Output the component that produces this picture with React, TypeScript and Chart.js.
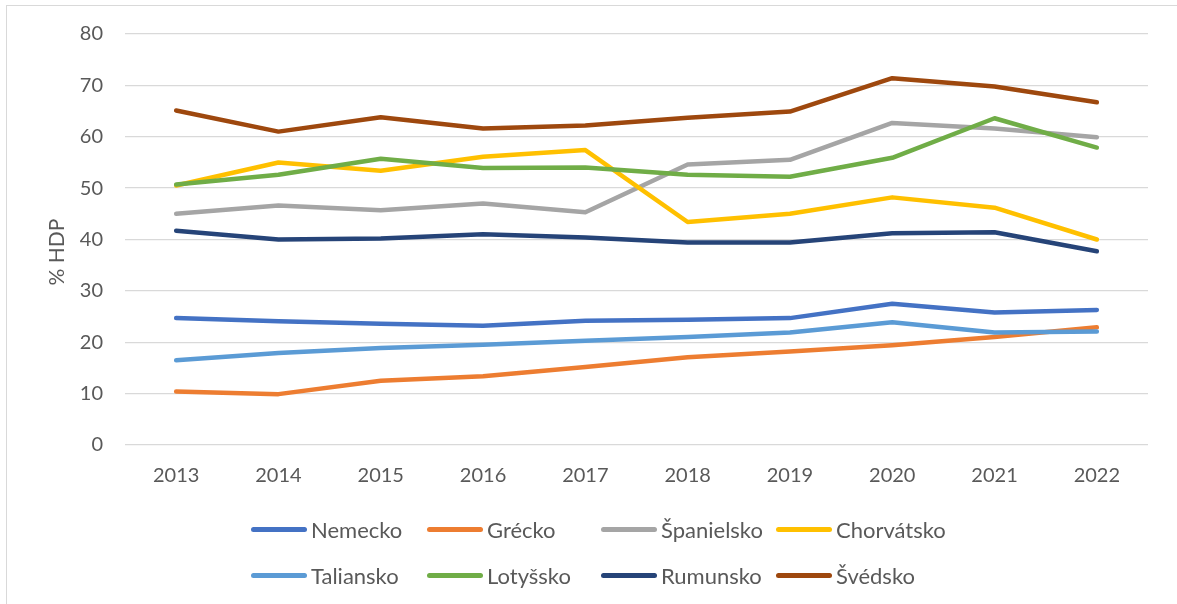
import React, { useEffect, useRef } from "react";
import { Chart, registerables } from "chart.js";

Chart.register(...registerables);

const years = ["2013", "2014", "2015", "2016", "2017", "2018", "2019", "2020", "2021", "2022"];

const nemecko = [24.7, 24.1, 23.6, 23.2, 24.2, 24.4, 24.7, 27.5, 25.8, 26.3];
const grecko = [10.4, 9.9, 12.5, 13.4, 15.2, 17.1, 18.2, 19.4, 21.0, 22.9];
const spanielsko = [45.0, 46.6, 45.7, 47.0, 45.3, 54.6, 55.5, 62.7, 61.6, 59.9];
const chorvatsko = [50.5, 55.0, 53.4, 56.1, 57.4, 43.4, 45.0, 48.2, 46.2, 40.0];
const taliansko = [16.5, 17.9, 18.9, 19.5, 20.3, 21.0, 21.9, 23.9, 21.9, 22.1];
const lotyssko = [50.7, 52.6, 55.7, 53.9, 54.0, 52.6, 52.2, 55.9, 63.6, 57.9];
const rumunsko = [41.7, 40.0, 40.2, 41.0, 40.4, 39.4, 39.4, 41.2, 41.4, 37.7];
const svedsko = [65.1, 61.0, 63.8, 61.6, 62.2, 63.7, 64.9, 71.4, 69.8, 66.7];

const yTicks = [0, 10, 20, 30, 40, 50, 60, 70, 80];
const yTitle = "% HDP";

const seriesNames = ["Nemecko", "Grécko", "Španielsko", "Chorvátsko", "Taliansko", "Lotyšsko", "Rumunsko", "Švédsko"];
const seriesValues = [nemecko, grecko, spanielsko, chorvatsko, taliansko, lotyssko, rumunsko, svedsko];
const seriesColors = ["#4472C4", "#ED7D31", "#A5A5A5", "#FFC000", "#5B9BD5", "#70AD47", "#264478", "#9E480E"];

const FONT = "Lato, 'Open Sans', sans-serif";
const TEXT = "#595959";

const titlePlugin = {
  id: "yTitle",
  afterDraw(chart: any) {
    const ctx = chart.ctx;
    ctx.save();
    ctx.translate(57, 252);
    ctx.rotate(-Math.PI / 2);
    ctx.font = `21px ${FONT}`;
    ctx.fillStyle = TEXT;
    ctx.textAlign = "center";
    ctx.textBaseline = "middle";
    ctx.fillText(yTitle, 0, 0);
    ctx.restore();
  },
};

export default function App() {
  const ref = useRef<HTMLCanvasElement>(null);
  useEffect(() => {
    if (!ref.current) return;
    const chart = new Chart(ref.current, {
      type: "line",
      data: {
        labels: years,
        datasets: seriesNames.map((name, i) => ({
          label: name,
          data: seriesValues[i],
          borderColor: seriesColors[i],
          backgroundColor: seriesColors[i],
          borderWidth: 4.5,
          borderCapStyle: "round" as const,
          borderJoinStyle: "round" as const,
          pointRadius: 0,
          tension: 0,
          order: seriesNames.length - i,
        })),
      },
      options: {
        animation: false,
        responsive: false,
        layout: { padding: { top: 33, right: 29, left: 0, bottom: 0 } },
        plugins: { legend: { display: false }, tooltip: { enabled: false } },
        scales: {
          x: {
            offset: true,
            grid: { display: false, drawTicks: false },
            border: { display: false },
            ticks: { color: TEXT, font: { family: FONT, size: 20 }, padding: 19, maxRotation: 0 },
            afterFit: (s: any) => {
              s.height = 159;
            },
          },
          y: {
            min: 0,
            max: 80,
            afterBuildTicks: (s: any) => {
              s.ticks = yTicks.map((v) => ({ value: v }));
            },
            grid: { color: "#d9d9d9", lineWidth: 1.3, drawTicks: false },
            border: { display: false },
            ticks: { color: TEXT, font: { family: FONT, size: 20 }, padding: 22 },
            afterFit: (s: any) => {
              s.width = 125;
            },
          },
        },
      },
      plugins: [titlePlugin],
    });
    return () => chart.destroy();
  }, []);

  const colLeft = [251, 427, 601, 776];
  const rowY = [529, 575];

  return (
    <div>
      <div
        style={{
          position: "fixed",
          left: 6,
          top: 5,
          width: 1400,
          height: 800,
          border: "1.5px solid #d9d9d9",
          boxSizing: "border-box",
        }}
      />
      <canvas
        ref={ref}
        width={1177}
        height={604}
        style={{ position: "fixed", left: 0, top: 0, width: 1177, height: 604 }}
      />
      {seriesNames.map((name, i) => {
        const col = i % 4;
        const row = Math.floor(i / 4);
        return (
          <div
            key={name}
            style={{
              position: "fixed",
              left: colLeft[col],
              top: rowY[row] - 15,
              height: 30,
              display: "flex",
              alignItems: "center",
              fontFamily: FONT,
              fontSize: 22,
              color: TEXT,
              whiteSpace: "nowrap",
            }}
          >
            <span
              style={{
                display: "inline-block",
                width: 56,
                height: 5,
                borderRadius: 3,
                background: seriesColors[i],
                marginRight: 4,
              }}
            />
            <span>{name}</span>
          </div>
        );
      })}
    </div>
  );
}
